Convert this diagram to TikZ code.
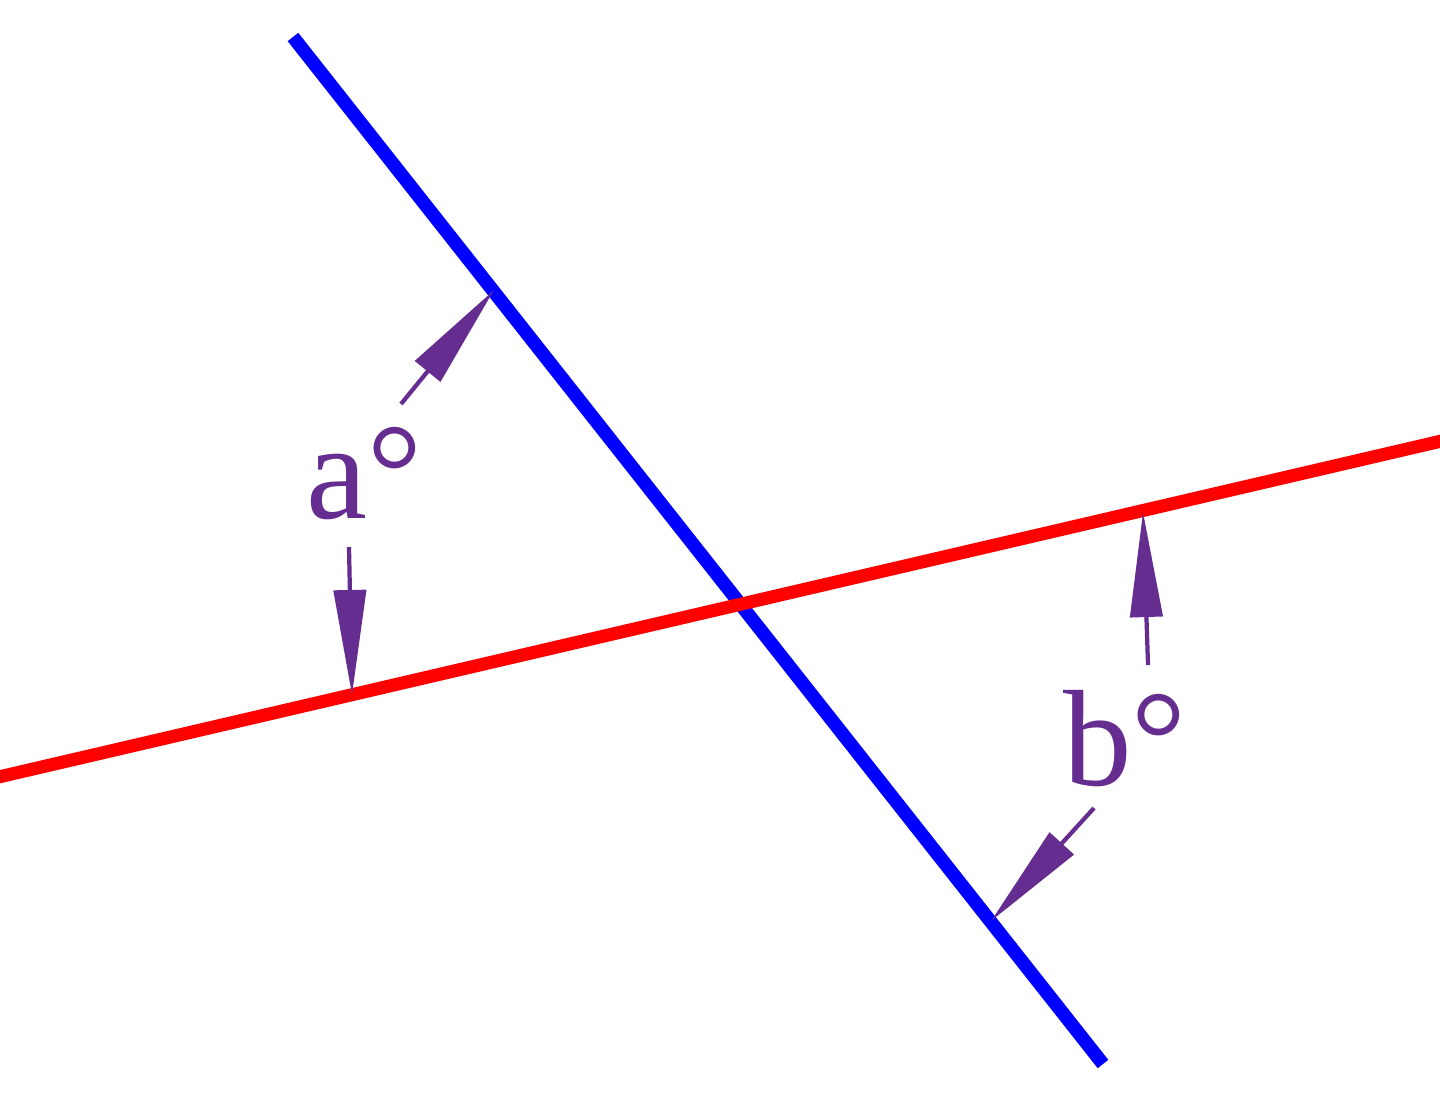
\documentclass[tikz,border=0pt]{standalone}
\usepackage{fontspec}
\setmainfont{Liberation Serif}
\usepackage{xcolor}
\usepackage{tikz}
\usetikzlibrary{arrows.meta}
\definecolor{anglepurple}{RGB}{102,45,145}
\begin{document}
\begin{tikzpicture}[x=0.01cm,y=-0.01cm,
    pointer/.style={anglepurple, line width=1.2pt, -{Triangle[length=10.5mm,width=3.2mm]}},
    anglelabel/.style={anglepurple, anchor=base, inner sep=0pt, font=\fontsize{39}{40}\selectfont}]
    \useasboundingbox (0,0) rectangle (1440,1102);
    % the two lines
    \coordinate (blueTop) at (293,37);
    \coordinate (blueBot) at (1103,1064);
    \coordinate (redLeft) at (-10,779);
    \coordinate (redRight) at (1450,439);
    \draw[blue, line width=0.135cm] (blueTop) -- (blueBot);
    \draw[red, line width=0.13cm] (redLeft) -- (redRight);
    % angle a
    \node[anglelabel] (labelA) at (364,518) {a°};
    \coordinate (aTailDown) at (349,547);
    \coordinate (aTipDown) at (352,695);
    \coordinate (aTailDiag) at (401,404);
    \coordinate (aTipDiag) at (494,290);
    \draw[pointer] (aTailDown) -- (aTipDown);
    \draw[pointer] (aTailDiag) -- (aTipDiag);
    % angle b
    \node[anglelabel] (labelB) at (1125,785) {b°};
    \coordinate (bTailUp) at (1148,665);
    \coordinate (bTipUp) at (1143,512);
    \coordinate (bTailDiag) at (1094,808);
    \coordinate (bTipDiag) at (991,921);
    \draw[pointer] (bTailUp) -- (bTipUp);
    \draw[pointer] (bTailDiag) -- (bTipDiag);
\end{tikzpicture}
\end{document}
